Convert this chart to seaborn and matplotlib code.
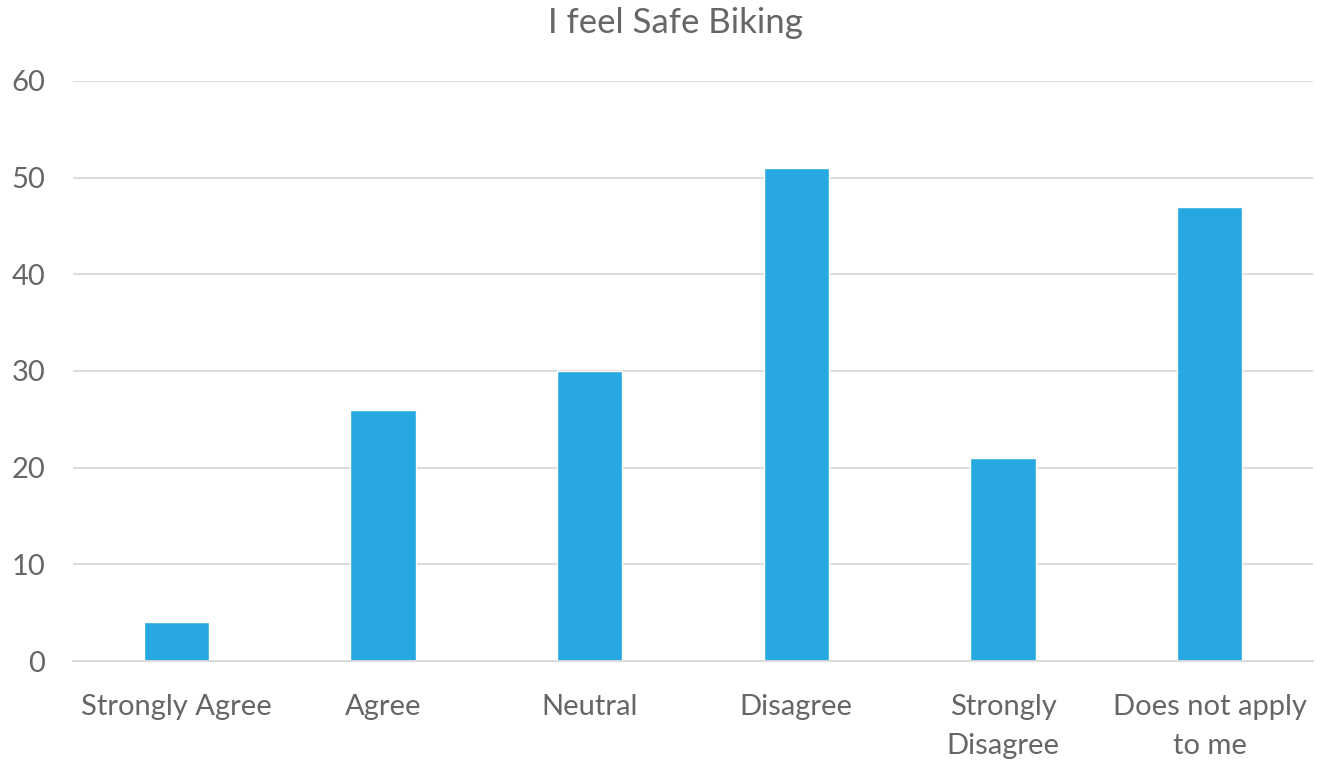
import matplotlib
matplotlib.use("Agg")
import matplotlib.pyplot as plt
import seaborn as sns
import pandas as pd

categories = ["Strongly Agree", "Agree", "Neutral", "Disagree",
              "Strongly\nDisagree", "Does not apply\nto me"]
counts = [4, 26, 30, 51, 21, 47]
y_ticks = [0, 10, 20, 30, 40, 50, 60]
title = "I feel Safe Biking"

bar_color = "#27A8E0"
text_color = "#666666"
grid_color = "#D9D9D9"

sns.set_theme(style="white")
plt.rcParams["font.family"] = ["Lato", "DejaVu Sans"]

df = pd.DataFrame({"category": categories, "count": counts})

fig = plt.figure(figsize=(13.17, 7.61), dpi=100)
ax = fig.add_axes([0.0554, 0.1314, 0.9416, 0.7622])

sns.barplot(data=df, x="category", y="count", color=bar_color,
            width=0.315, saturation=1, ax=ax, zorder=3)

ax.set_ylim(0, 60)
ax.set_xlim(-0.5, len(categories) - 0.5)
ax.set_yticks(y_ticks)
ax.yaxis.grid(True, color=grid_color, linewidth=1.3, zorder=0)
ax.xaxis.grid(False)
for side in ["left", "right", "top"]:
    ax.spines[side].set_visible(False)
ax.spines["bottom"].set_color(grid_color)
ax.spines["bottom"].set_linewidth(1.3)
ax.spines["bottom"].set_zorder(4)

ax.set_xlabel("")
ax.set_ylabel("")
ax.tick_params(axis="both", length=0, labelsize=21, colors=text_color)
ax.tick_params(axis="x", pad=24)
ax.tick_params(axis="y", pad=20)
for lbl in ax.get_xticklabels():
    lbl.set_linespacing(1.6)

fig.text(0.5128, 0.97, title, ha="center", va="center",
         fontsize=25, color=text_color)

fig.savefig("out.png", dpi=100)
